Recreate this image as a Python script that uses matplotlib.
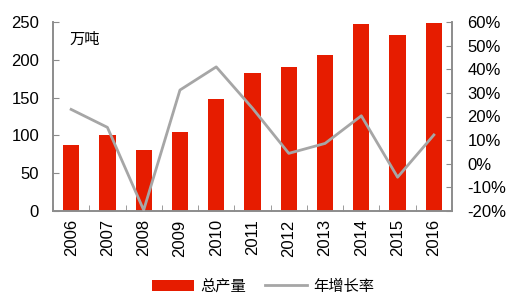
import matplotlib
matplotlib.use("Agg")
import matplotlib.pyplot as plt
import numpy as np
from matplotlib.ticker import FuncFormatter, FixedLocator

plt.rcParams['font.family'] = ['Liberation Sans', 'Noto Sans CJK SC', 'DejaVu Sans']

years = ['2006', '2007', '2008', '2009', '2010', '2011', '2012', '2013', '2014', '2015', '2016']
production = [87, 100, 81, 105, 148, 182, 190, 206, 247, 233, 249]
growth = [23.0, 15.4, -19.6, 31.2, 41.0, 23.5, 4.4, 8.6, 20.3, -5.7, 12.2]

red = '#E61C00'
gray = '#A6A6A6'
spine_c = '#8C8C8C'

fig = plt.figure(figsize=(5.19, 3.01), dpi=100)
ax = fig.add_axes([53/519, 1-211/301, (452-53)/519, (211-22)/301])
x = np.arange(len(years))
bars = ax.bar(x, production, width=0.45, color=red, label='总产量', zorder=2)
ax.set_xlim(-0.5, len(years)-0.5)
ax.set_ylim(0, 250)
ax.set_yticks([0, 50, 100, 150, 200, 250])
ax.set_xticks(x)
ax.set_xticklabels(years, rotation=90)
ax.xaxis.set_minor_locator(FixedLocator(np.arange(-0.5, len(years), 1.0)))
ax.tick_params(axis='x', which='major', length=0, labelsize=12, pad=6)
ax.tick_params(axis='x', which='minor', direction='in', length=4, color=spine_c)
ax.tick_params(axis='y', direction='in', length=4, color=spine_c, labelsize=12, pad=10)

ax2 = ax.twinx()
line, = ax2.plot(x, growth, color=gray, lw=2.0, label='年增长率', zorder=3)
ax2.set_ylim(-20, 60)
ax2.set_yticks(np.arange(-20, 61, 10))
ax2.yaxis.set_major_formatter(FuncFormatter(lambda v, p: f'{int(v)}%'))
ax2.tick_params(axis='y', direction='in', length=4, color=spine_c, labelsize=12, pad=11)

for a in (ax, ax2):
    a.spines['top'].set_visible(False)
    for s in ('left', 'right', 'bottom'):
        a.spines[s].set_color(spine_c)
        a.spines[s].set_linewidth(1.2)

ax.text(0.04, 0.955, '万吨', transform=ax.transAxes, fontsize=11,
        family=['Noto Sans CJK SC'], va='top', ha='left')

leg = fig.legend([bars, line], ['总产量', '年增长率'], loc='center',
                 bbox_to_anchor=(263/519, 1-286/301), ncol=2, frameon=False,
                 prop={'family': ['Noto Sans CJK SC'], 'size': 11},
                 handlelength=2.8, handleheight=0.7, columnspacing=1.2, handletextpad=0.4)

fig.savefig('out.png', dpi=100)
